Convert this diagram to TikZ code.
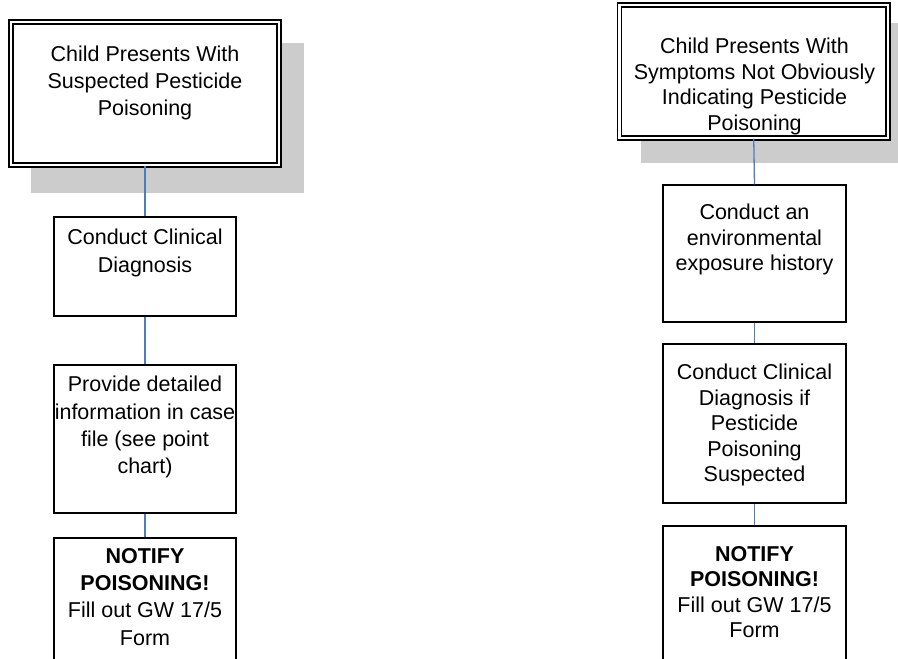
\documentclass[tikz,border=0pt]{standalone}
\usepackage{fontspec}
\setmainfont{Liberation Sans}
\definecolor{connblue}{RGB}{74,126,190}
\definecolor{shadowgray}{RGB}{204,204,204}
\tikzset{
  box/.style={draw=black, line width=1.3pt, fill=white, rectangle, inner sep=0pt},
  topbox/.style={draw=black, line width=1.3pt, double=white, double distance=2.6pt, fill=white, rectangle, inner sep=0pt},
  shadowbox/.style={fill=shadowgray, draw=none},
  conn/.style={draw=connblue, line width=1.3pt},
  txtL/.style={font=\fontsize{21.5}{27.3}\selectfont, align=center, inner sep=0pt, anchor=north},
  txtR/.style={font=\fontsize{21.5}{25.5}\selectfont, align=center, inner sep=0pt, anchor=north}
}
\begin{document}
\begin{tikzpicture}[x=1pt,y=-1pt]
\useasboundingbox (0,0) rectangle (898,659);
\clip (0,0) rectangle (898,659);
% shadows
\fill[shadowgray] (31,43) rectangle (304,193);
\fill[shadowgray] (641,23) rectangle (915,163);
% left column
\node[topbox, minimum width=268pt, minimum height=143pt] (l1) at (145,93.5) {};
\node[box, minimum width=182pt, minimum height=99pt] (l2) at (145,266.5) {};
\node[box, minimum width=182pt, minimum height=148pt] (l3) at (145,439) {};
\node[box, minimum width=182pt, minimum height=160pt] (l4) at (145,618) {};
% right column
\node[topbox, minimum width=268.5pt, minimum height=133pt] (r1) at (753.75,71.5) {};
\node[box, minimum width=183pt, minimum height=137pt] (r2) at (754.5,253.5) {};
\node[box, minimum width=183pt, minimum height=159pt] (r3) at (754.5,423.5) {};
\node[box, minimum width=183pt, minimum height=160pt] (r4) at (754.5,606) {};
% connectors
\draw[conn] (l1.south) -- (l2.north);
\draw[conn] (l2.south) -- (l3.north);
\draw[conn] (l3.south) -- (l4.north);
\draw[conn] (r1.south) -- (r2.north);
\draw[conn] (r2.south) -- (r3.north);
\draw[conn] (r3.south) -- (r4.north);
% texts
\node[txtL] (l1t) at (145,45.5) {Child Presents With\\Suspected Pesticide\\Poisoning};
\node[txtL] (l2t) at (145,229) {Conduct Clinical\\Diagnosis};
\node[txtL] (l3t) at (145,376) {Provide detailed\\information in case\\file (see point\\chart)};
\node[txtL] (l4t) at (145,548) {\textbf{NOTIFY}\\\textbf{POISONING!}\\Fill out GW 17/5\\Form};
\node[txtR] (r1t) at (754.5,38) {Child Presents With\\Symptoms Not Obviously\\Indicating Pesticide\\Poisoning};
\node[txtR] (r2t) at (754.5,204) {Conduct an\\environmental\\exposure history};
\node[txtR] (r3t) at (754.5,364) {Conduct Clinical\\Diagnosis if\\Pesticide\\Poisoning\\Suspected};
\node[txtR] (r4t) at (754.5,546) {\textbf{NOTIFY}\\\textbf{POISONING!}\\Fill out GW 17/5\\Form};
\end{tikzpicture}
\end{document}
